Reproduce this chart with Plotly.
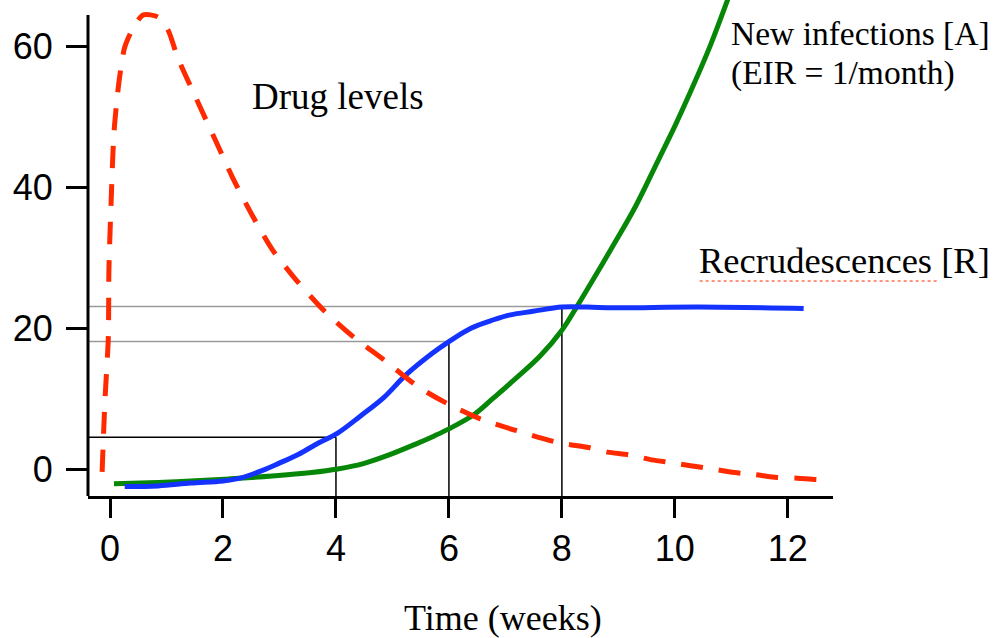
import plotly.graph_objects as go

# ---------------- data ----------------
x_tick_vals = [0, 2, 4, 6, 8, 10, 12]
y_tick_vals = [0, 20, 40, 60]

drug_weeks = [-0.14, -0.09, -0.03, -0.02, 0.02, 0.07, 0.16, 0.26, 0.42, 0.59, 0.85,
              1.03, 1.20, 1.55, 1.86, 2.17, 2.50, 2.87, 3.30, 3.80, 4.32,
              4.85, 5.45, 5.97, 6.56, 7.26, 7.96, 8.44, 8.81, 9.19, 9.59, 9.93,
              10.34, 10.66, 11.06, 11.42, 11.81, 12.17, 12.57, 12.78]
drug_levels = [-0.4, 9.7, 18.7, 28.2, 38.1, 47.8, 55.1, 59.9, 62.8, 64.5, 64.2,
               62.3, 58.4, 52.2, 46.8, 41.4, 36.3, 31.2, 26.8, 22.4, 18.7,
               15.5, 11.7, 9.3, 7.1, 5.3, 3.7, 3.1, 2.4, 2.0, 1.3, 0.9,
               0.4, 0.0, -0.5, -0.8, -1.2, -1.3, -1.5, -1.35]

recr_weeks = [0.26, 0.85, 1.43, 2.0, 2.30, 2.70, 2.99, 3.34, 3.69, 4.03, 4.43,
              4.84, 5.23, 5.70, 6.0, 6.39, 6.79, 7.09, 7.49, 8.0, 8.44, 8.94,
              10.43, 12.28]
recrudescences = [-2.5, -2.4, -2.0, -1.7, -1.3, -0.2, 0.8, 2.1, 3.7, 5.1, 7.5,
                  10.1, 13.3, 16.4, 18.1, 20.0, 21.2, 21.9, 22.4, 23.0, 23.0, 22.9,
                  23.0, 22.8]

newinf_weeks = [0.07, 0.85, 1.43, 2.12, 2.87, 3.57, 4.03, 4.50, 4.94, 5.40, 5.74,
                6.0, 6.44, 6.79, 7.09, 7.61, 8.0, 8.26, 8.44, 8.89, 9.31, 9.69,
                10.0, 10.30, 10.62, 10.95]
new_infections = [-2.1, -1.9, -1.7, -1.4, -1.0, -0.5, 0.0, 0.8, 2.0, 3.5, 4.7,
                  5.7, 7.7, 10.1, 12.2, 16.0, 19.7, 23.0, 25.4, 31.5, 37.4, 43.6,
                  48.7, 54.0, 60.0, 67.0]

marker_weeks = [4, 6, 8]
marker_levels = [4.5, 18.1, 23.1]
marker_colors = ["#000000", "#9a9a9a", "#9a9a9a"]

X_RANGE = [-0.39, 12.8]
Y_RANGE = [-3.835, 66.62]
Y_AXIS_TOP = 64.5

RED = "#ff2a00"
BLUE = "#1433ff"
GREEN = "#078707"

fig = go.Figure()

# reference (read-off) lines
for w, lvl, col in zip(marker_weeks, marker_levels, marker_colors):
    fig.add_trace(go.Scatter(x=[X_RANGE[0], w], y=[lvl, lvl], mode="lines",
                             line=dict(color=col, width=1.5), hoverinfo="skip",
                             showlegend=False))
    fig.add_trace(go.Scatter(x=[w, w], y=[lvl, Y_RANGE[0]], mode="lines",
                             line=dict(color="#000000", width=1.5), hoverinfo="skip",
                             showlegend=False))

fig.add_trace(go.Scatter(x=newinf_weeks, y=new_infections, mode="lines",
                         line=dict(color=GREEN, width=5, shape="spline", smoothing=1.0),
                         name="New infections", showlegend=False))
fig.add_trace(go.Scatter(x=recr_weeks, y=recrudescences, mode="lines",
                         line=dict(color=BLUE, width=5, shape="spline", smoothing=1.0),
                         name="Recrudescences", showlegend=False))
fig.add_trace(go.Scatter(x=drug_weeks, y=drug_levels, mode="lines",
                         line=dict(color=RED, width=5, shape="spline", smoothing=0.7,
                                   dash="22px,16px"),
                         name="Drug levels", showlegend=False))

# y-axis line (ends below the top of the plotting area, as in the reference)
fig.add_shape(type="line", xref="paper", yref="y", x0=0, x1=0,
              y0=Y_RANGE[0], y1=Y_AXIS_TOP, line=dict(color="black", width=3))

serif = "Liberation Serif"
fig.add_annotation(text="Drug levels", xref="paper", yref="paper", x=0.2174, y=0.806,
                   xanchor="left", yanchor="middle", showarrow=False,
                   font=dict(family=serif, size=37, color="black"))
fig.add_annotation(text="New infections [A]", xref="paper", yref="paper", x=0.861, y=0.933,
                   xanchor="left", yanchor="middle", showarrow=False,
                   font=dict(family=serif, size=33.5, color="black"))
fig.add_annotation(text="(EIR = 1/month)", xref="paper", yref="paper", x=0.861, y=0.853,
                   xanchor="left", yanchor="middle", showarrow=False,
                   font=dict(family=serif, size=33.5, color="black"))
fig.add_annotation(text="Recrudescences [R]", xref="paper", yref="paper", x=0.817, y=0.474,
                   xanchor="left", yanchor="middle", showarrow=False,
                   font=dict(family=serif, size=36.5, color="black"))
fig.add_annotation(text="Time (weeks)", xref="paper", yref="paper", x=0.557, y=-0.246,
                   xanchor="center", yanchor="middle", showarrow=False,
                   font=dict(family=serif, size=36, color="black"))
# spell-check squiggle under "Recrudescences"
fig.add_shape(type="line", xref="paper", yref="paper", x0=0.821, x1=1.142,
              y0=0.4335, y1=0.4335, line=dict(color="#ff7050", width=1.5, dash="dot"))

fig.update_layout(
    width=1000, height=638,
    margin=dict(l=88, r=167, t=0, b=142, autoexpand=False),
    plot_bgcolor="white", paper_bgcolor="white",
    xaxis=dict(range=X_RANGE, tickvals=x_tick_vals, ticks="outside", ticklen=19,
               tickwidth=3, tickcolor="black", showline=True, linewidth=3,
               linecolor="black", showgrid=False, zeroline=False, automargin=False,
               tickfont=dict(family="Liberation Sans", size=36, color="black")),
    yaxis=dict(range=Y_RANGE, tickvals=y_tick_vals, ticks="outside", ticklen=21,
               tickwidth=3, tickcolor="black", showline=False, showgrid=False,
               zeroline=False, ticklabelstandoff=6, automargin=False,
               tickfont=dict(family="Liberation Sans", size=36, color="black")),
)

fig.write_html("out.html", config={"displayModeBar": False},
               post_script="document.body.style.margin='0';document.body.style.overflow='hidden';")
